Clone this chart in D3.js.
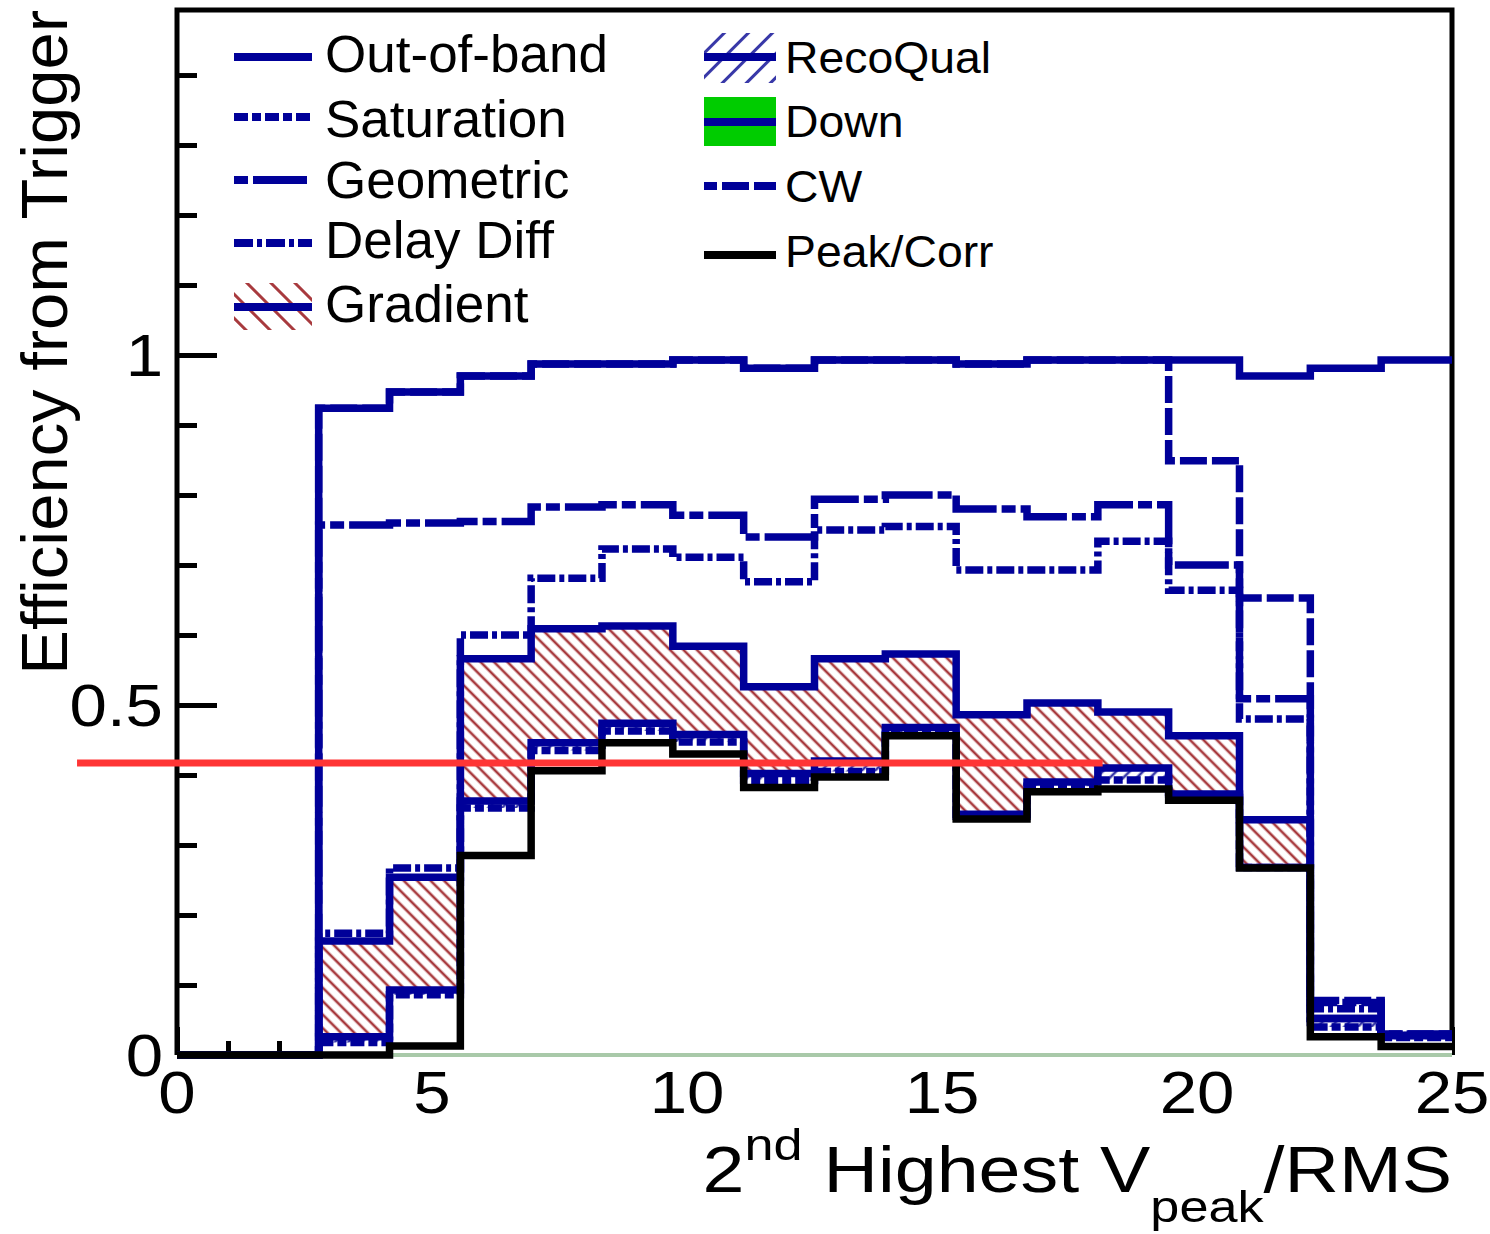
<!DOCTYPE html>
<html>
<head>
<meta charset="utf-8">
<script src="https://cdn.jsdelivr.net/npm/d3@7"></script>
<style>
  body { margin: 0; background: #fff; }
  svg { display: block; }
  text { font-family: "Liberation Sans", Arial, Helvetica, sans-serif; fill: #000; }
</style>
</head>
<body>
<svg id="chart" width="1490" height="1234"></svg>
<script>
// 18 equal bins from 0 to 25
var binEdges = [0, 1.389, 2.778, 4.167, 5.556, 6.944, 8.333, 9.722, 11.111, 12.5,
                13.889, 15.278, 16.667, 18.056, 19.444, 20.833, 22.222, 23.611, 25];

// efficiencies per bin
var outOfBand  = [0, 0, 0.924, 0.947, 0.970, 0.987, 0.987, 0.993, 0.981, 0.993, 0.993, 0.987, 0.993, 0.993, 0.993, 0.970, 0.981, 0.993];
var cw         = [0, 0, 0.924, 0.947, 0.970, 0.987, 0.987, 0.993, 0.981, 0.993, 0.993, 0.987, 0.993, 0.993, 0.849, 0.653, 0.078, 0.030];
var geometric  = [0, 0, 0.757, 0.760, 0.762, 0.783, 0.786, 0.771, 0.740, 0.794, 0.800, 0.780, 0.769, 0.786, 0.700, 0.509, 0.075, 0.030];
var delayDiff  = [0, 0, 0.174, 0.267, 0.600, 0.681, 0.723, 0.711, 0.676, 0.750, 0.755, 0.693, 0.693, 0.734, 0.664, 0.480, 0.066, 0.028];
var gradient   = [0, 0, 0.163, 0.254, 0.566, 0.609, 0.613, 0.584, 0.526, 0.566, 0.573, 0.486, 0.503, 0.490, 0.456, 0.336, 0.052, 0.028];
var recoQual   = [0, 0, 0.026, 0.093, 0.363, 0.446, 0.474, 0.458, 0.402, 0.420, 0.468, 0.344, 0.390, 0.410, 0.373, 0.268, 0.052, 0.028];
var saturation = [0, 0, 0.018, 0.086, 0.353, 0.435, 0.463, 0.447, 0.392, 0.405, 0.458, 0.341, 0.384, 0.393, 0.368, 0.268, 0.040, 0.025];
var down       = [0, 0, 0, 0, 0, 0, 0, 0, 0, 0, 0, 0, 0, 0, 0, 0, 0, 0];
var peakCorr   = [0, 0, 0, 0.013, 0.285, 0.406, 0.446, 0.430, 0.382, 0.397, 0.456, 0.337, 0.376, 0.380, 0.364, 0.267, 0.026, 0.012];

// axis ticks and labels
var xMajor = [0, 5, 10, 15, 20, 25];
var xMinor = [1, 2, 3, 4, 6, 7, 8, 9, 11, 12, 13, 14, 16, 17, 18, 19, 21, 22, 23, 24];
var xTickLabels = ["0", "5", "10", "15", "20", "25"];
var yMajor = [0, 0.5, 1];
var yMinor = [0.1, 0.2, 0.3, 0.4, 0.6, 0.7, 0.8, 0.9, 1.1, 1.2, 1.3, 1.4];
var yTickLabels = ["0", "0.5", "1"];

// the red reference line
var refLineValue = 0.417;
var refLineRange = [-1.96, 18.15];

var svg = d3.select("#chart");
var blue = "#000099";

var x = d3.scaleLinear().domain([0, 25]).range([177, 1452]);
var y = d3.scaleLinear().domain([0, 1.4929]).range([1055, 10]);

// hatch patterns
var defs = svg.append("defs");
function hatch(id, spacing, angle, color, width) {
  var p = defs.append("pattern")
    .attr("id", id)
    .attr("patternUnits", "userSpaceOnUse")
    .attr("width", spacing)
    .attr("height", spacing)
    .attr("patternTransform", "rotate(" + angle + ")");
  p.append("line")
    .attr("x1", spacing / 2).attr("y1", -1)
    .attr("x2", spacing / 2).attr("y2", spacing + 1)
    .attr("stroke", color)
    .attr("stroke-width", width);
}
hatch("hatchRed", 9.5, -45, "#a83a3e", 2.6);
hatch("hatchBlue", 9.5, 45, "#3838a8", 2.6);
hatch("hatchRedLeg", 17, -45, "#a83a3e", 3);
hatch("hatchBlueLeg", 17, 45, "#3838a8", 3);

// frame (left, top, right)
svg.append("path")
  .attr("d", "M" + x(0) + "," + y(0) + "V" + y(1.4929) + "H" + x(25) + "V" + y(0))
  .attr("fill", "none")
  .attr("stroke", "#000")
  .attr("stroke-width", 5);

// ticks, drawn before the histograms so white fills hide them
function styleTicks(g) {
  g.select(".domain").remove();
  g.selectAll(".tick line").attr("stroke", "#000").attr("stroke-width", 5);
}
svg.append("g").attr("transform", "translate(" + x(0) + ",0)")
  .call(d3.axisLeft(y).tickValues(yMinor).tickSize(-20).tickFormat(""))
  .call(styleTicks);
svg.append("g").attr("transform", "translate(" + x(0) + ",0)")
  .call(d3.axisLeft(y).tickValues(yMajor).tickSize(-40).tickFormat(""))
  .call(styleTicks);
svg.append("g").attr("transform", "translate(0," + y(0) + ")")
  .call(d3.axisBottom(x).tickValues(xMinor).tickSize(-14).tickFormat(""))
  .call(styleTicks);
svg.append("g").attr("transform", "translate(0," + y(0) + ")")
  .call(d3.axisBottom(x).tickValues(xMajor).tickSize(-28).tickFormat(""))
  .call(styleTicks);

// histograms
function stepPoints(vals) {
  var pts = vals.map(function(v, i) { return [binEdges[i], v]; });
  pts.push([binEdges[vals.length], vals[vals.length - 1]]);
  return pts;
}
var histLine = d3.line()
  .x(function(d) { return x(d[0]); })
  .y(function(d) { return y(d[1]); })
  .curve(d3.curveStepAfter);
var histArea = d3.area()
  .x(function(d) { return x(d[0]); })
  .y0(y(0))
  .y1(function(d) { return y(d[1]); })
  .curve(d3.curveStepAfter);

var series = [
  { name: "Out-of-band", vals: outOfBand,  color: blue, dash: null,         fills: [] },
  { name: "CW",          vals: cw,         color: blue, dash: "27,5",       fills: [] },
  { name: "Geometric",   vals: geometric,  color: blue, dash: "54,5,14,5",  fills: [] },
  { name: "Delay Diff",  vals: delayDiff,  color: blue, dash: "18,4,5,4",   fills: [] },
  { name: "Gradient",    vals: gradient,   color: blue, dash: null,         fills: ["url(#hatchRed)"] },
  { name: "RecoQual",    vals: recoQual,   color: blue, dash: null,         fills: ["#fff", "url(#hatchBlue)"] },
  { name: "Saturation",  vals: saturation, color: blue, dash: "14,4,9,4",   fills: ["#fff"] },
  { name: "Down",        vals: down,       color: "#a9c9a9", dash: null,    fills: [], width: 4 },
  { name: "Peak/Corr",   vals: peakCorr,   color: "#000", dash: null,       fills: ["#fff"] }
];

var fillLayer = svg.append("g");
var lineLayer = svg.append("g");
series.forEach(function(s) {
  var pts = stepPoints(s.vals);
  s.fills.forEach(function(f) {
    fillLayer.append("path").attr("d", histArea(pts)).attr("fill", f).attr("stroke", "none");
  });
  lineLayer.append("path")
    .attr("d", histLine(pts))
    .attr("fill", "none")
    .attr("stroke", s.color)
    .attr("stroke-width", s.width || 7.5)
    .attr("stroke-dasharray", s.dash)
    .attr("stroke-linejoin", "miter");
});

// stretched text helper
function label(parent, str, px, py, size, anchor, k) {
  var g = parent.append("g").attr("transform", "translate(" + px + "," + py + ") scale(" + k + ",1)");
  return g.append("text").attr("x", 0).attr("y", 0)
    .attr("font-size", size).attr("text-anchor", anchor).text(str);
}

// tick labels
xMajor.forEach(function(v, i) {
  label(svg, xTickLabels[i], x(v), 1113, 60, "middle", 1.12);
});
yMajor.forEach(function(v, i) {
  label(svg, yTickLabels[i], 163, y(v) + 21, 60, "end", 1.12);
});

// axis titles
svg.append("g").attr("transform", "translate(67,10) rotate(-90) scale(1.03,1)")
  .append("text").attr("font-size", 65).attr("text-anchor", "end")
  .text("Efficiency from Trigger");

var xt = svg.append("g").attr("transform", "translate(1452,1192) scale(1.16,1)")
  .append("text").attr("font-size", 65).attr("text-anchor", "end");
xt.append("tspan").text("2");
xt.append("tspan").attr("font-size", 45).attr("dy", -32).text("nd");
xt.append("tspan").attr("dy", 32).text(" Highest V");
xt.append("tspan").attr("font-size", 45).attr("dy", 30).text("peak");
xt.append("tspan").attr("dy", -30).text("/RMS");

// legend
var legendLeft = ["Out-of-band", "Saturation", "Geometric", "Delay Diff", "Gradient"];
var legendLeftY = [57, 117, 180, 243, 307];
var legendLeftBase = [72, 137, 198, 258, 322];
var legendRight = ["RecoQual", "Down", "CW", "Peak/Corr"];
var legendRightY = [57, 122, 186, 255];
var legendRightBase = [73, 137, 202, 267];

var leg = svg.append("g");
function legLine(x0, x1, yy, color, dash) {
  leg.append("line").attr("x1", x0).attr("x2", x1).attr("y1", yy).attr("y2", yy)
    .attr("stroke", color).attr("stroke-width", 8).attr("stroke-dasharray", dash);
}
// left column
legLine(234, 312, legendLeftY[0], blue, null);
legLine(234, 312, legendLeftY[1], blue, "14,4,9,4");
legLine(234, 312, legendLeftY[2], blue, "14,5,54,5");
legLine(234, 312, legendLeftY[3], blue, "19,4,5,4");
leg.append("rect").attr("x", 234).attr("y", 283).attr("width", 78).attr("height", 47)
  .attr("fill", "url(#hatchRedLeg)");
legLine(234, 312, legendLeftY[4], blue, null);
legendLeft.forEach(function(t, i) {
  label(leg, t, 325, legendLeftBase[i], 51, "start", 1.04);
});
// right column
leg.append("rect").attr("x", 704).attr("y", 33).attr("width", 72).attr("height", 50)
  .attr("fill", "url(#hatchBlueLeg)");
legLine(704, 776, legendRightY[0], blue, null);
leg.append("rect").attr("x", 704).attr("y", 97).attr("width", 72).attr("height", 49)
  .attr("fill", "#00cc00");
legLine(704, 776, legendRightY[1], blue, null);
legLine(704, 776, legendRightY[2], blue, "13,5,27,5,22,5");
legLine(704, 776, legendRightY[3], "#000", null);
legendRight.forEach(function(t, i) {
  label(leg, t, 785, legendRightBase[i], 45, "start", 1.03);
});

// red reference line on top
svg.append("line")
  .attr("x1", x(refLineRange[0])).attr("x2", x(refLineRange[1]))
  .attr("y1", y(refLineValue)).attr("y2", y(refLineValue))
  .attr("stroke", "#ff3535")
  .attr("stroke-width", 7);
</script>
</body>
</html>
